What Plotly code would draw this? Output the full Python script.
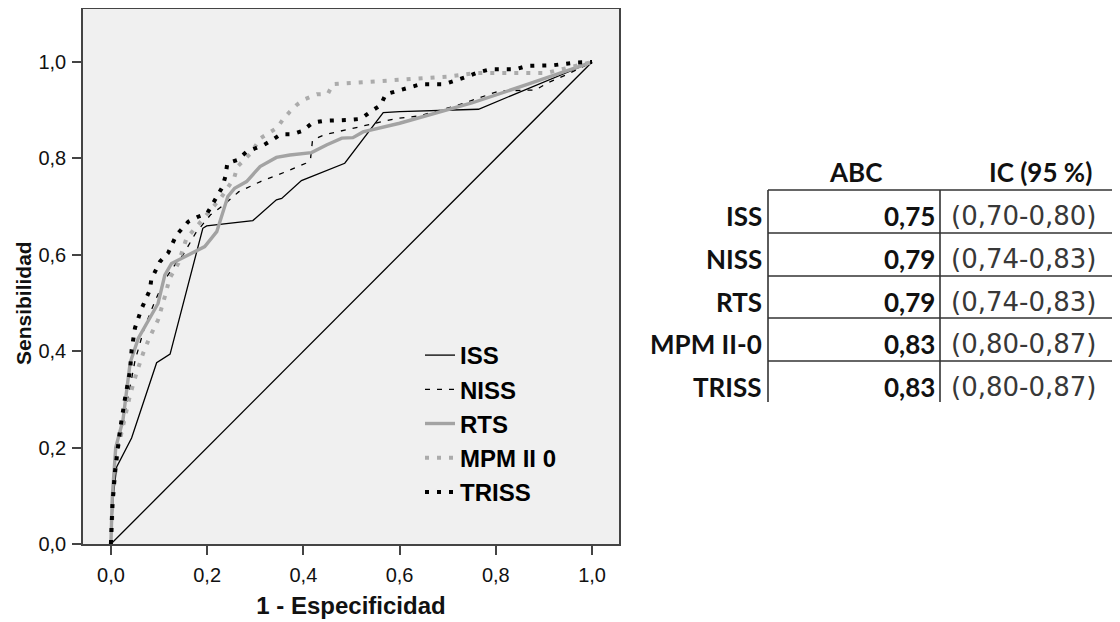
import plotly.graph_objects as go

# ---------------- data ----------------
iss_x = [0, 0.005, 0.012, 0.043, 0.095, 0.123, 0.191, 0.199, 0.295, 0.344, 0.355, 0.396, 0.486, 0.566, 0.6, 0.764, 1.0]
iss_y = [0, 0.10, 0.16, 0.22, 0.376, 0.394, 0.655, 0.66, 0.671, 0.714, 0.717, 0.754, 0.79, 0.895, 0.897, 0.902, 1.0]

niss_x = [0, 0.003, 0.008, 0.02, 0.035, 0.05, 0.07, 0.09, 0.11, 0.13, 0.15, 0.176, 0.207, 0.23, 0.266, 0.311, 0.36, 0.405, 0.415,
          0.419, 0.443, 0.49, 0.538, 0.594, 0.64, 0.72, 0.807, 0.883, 0.906, 0.95, 1.0]
niss_y = [0, 0.10, 0.17, 0.22, 0.30, 0.38, 0.45, 0.50, 0.545, 0.575, 0.60, 0.645, 0.683, 0.70, 0.731, 0.752, 0.771, 0.79, 0.80,
          0.838, 0.849, 0.86, 0.871, 0.883, 0.888, 0.91, 0.94, 0.942, 0.956, 0.975, 1.0]

rts_x = [0, 0.003, 0.01, 0.025, 0.04, 0.057, 0.098, 0.112, 0.126, 0.147, 0.195, 0.22, 0.243, 0.257, 0.282, 0.31, 0.344, 0.372,
         0.417, 0.448, 0.48, 0.503, 0.524, 0.6, 0.75, 0.87, 1.0]
rts_y = [0, 0.10, 0.20, 0.257, 0.376, 0.427, 0.499, 0.558, 0.582, 0.593, 0.617, 0.648, 0.721, 0.738, 0.752, 0.783, 0.802, 0.807,
         0.812, 0.828, 0.842, 0.843, 0.855, 0.873, 0.915, 0.955, 1.0]

mpm_x = [0, 0.005, 0.015, 0.03, 0.04, 0.053, 0.067, 0.081, 0.098, 0.112, 0.122, 0.14, 0.157, 0.181, 0.206, 0.23, 0.256, 0.263,
         0.29, 0.311, 0.346, 0.357, 0.372, 0.386, 0.403, 0.428, 0.451, 0.461, 0.583, 0.703, 0.758, 0.904, 1.0]
mpm_y = [0, 0.10, 0.20, 0.27, 0.31, 0.354, 0.396, 0.43, 0.465, 0.513, 0.551, 0.582, 0.634, 0.662, 0.69, 0.72, 0.759, 0.783,
         0.81, 0.842, 0.864, 0.88, 0.897, 0.911, 0.923, 0.933, 0.934, 0.954, 0.962, 0.97, 0.977, 0.977, 1.0]

triss_x = [0, 0.003, 0.008, 0.019, 0.029, 0.04, 0.043, 0.05, 0.064, 0.081, 0.084, 0.102, 0.119, 0.136, 0.161, 0.181, 0.2, 0.221,
           0.232, 0.238, 0.242, 0.263, 0.281, 0.298, 0.318, 0.335, 0.353, 0.377, 0.398, 0.419, 0.443, 0.495, 0.519, 0.54,
           0.561, 0.571, 0.595, 0.62, 0.644, 0.692, 0.716, 0.741, 0.765, 0.789, 0.841, 0.865, 0.917, 0.966, 1.0]
triss_y = [0, 0.08, 0.147, 0.237, 0.30, 0.361, 0.402, 0.448, 0.489, 0.527, 0.549, 0.586, 0.604, 0.641, 0.669, 0.679, 0.686, 0.723,
           0.741, 0.763, 0.79, 0.797, 0.813, 0.82, 0.828, 0.838, 0.85, 0.85, 0.857, 0.874, 0.878, 0.88, 0.882, 0.897,
           0.911, 0.933, 0.94, 0.948, 0.954, 0.954, 0.961, 0.97, 0.979, 0.985, 0.985, 0.992, 0.993, 0.999, 1.0]

ref_x = [0, 1]
ref_y = [0, 1]

tick_vals = [0, 0.2, 0.4, 0.6, 0.8, 1.0]

table_rows = ["ISS", "NISS", "RTS", "MPM II-0", "TRISS"]
table_abc = ["0,75", "0,79", "0,79", "0,83", "0,83"]
table_ic = ["(0,70-0,80)", "(0,74-0,83)", "(0,74-0,83)", "(0,80-0,87)", "(0,80-0,87)"]
table_headers = ["ABC", "IC (95 %)"]

# ---------------- layout geometry ----------------
W, H = 1120, 622
OFF = 8                     # default page body margin
L, R, T, B = 83, 619, 9, 544  # plot area in page pixels


def px(xp):
    return (xp - L) / (R - L)


def py(yp):
    return (B - yp) / (B - T)


fig = go.Figure()

fig.add_trace(go.Scatter(x=ref_x, y=ref_y, mode="lines", line=dict(color="black", width=1.3),
                         showlegend=False, hoverinfo="skip"))
series = [
    ("ISS", iss_x, iss_y, dict(color="black", width=1.3)),
    ("NISS", niss_x, niss_y, dict(color="black", width=1.3, dash="5px,7px")),
    ("RTS", rts_x, rts_y, dict(color="#a3a3a3", width=3.4)),
    ("MPM II 0", mpm_x, mpm_y, dict(color="#ababab", width=4, dash="4px,8px")),
    ("TRISS", triss_x, triss_y, dict(color="black", width=4, dash="4px,8px")),
]
for name, xs, ys, ln in series:
    fig.add_trace(go.Scatter(x=xs, y=ys, mode="lines", name=name, line=ln, legendgroup=name))

# ---------------- table ----------------
line_col = "#333333"
tfont = "Lato, 'Open Sans', sans-serif"
TS = 26
hline_y = [190, 233, 276, 318, 361]
row_y = [216, 259, 302, 344, 387]
x_left, x_mid = 768, 940

shapes = []
for yy in hline_y:
    shapes.append(dict(type="line", xref="paper", yref="paper", x0=px(x_left), x1=px(W + 10), y0=py(yy), y1=py(yy),
                       line=dict(color=line_col, width=1.6)))
for xx in (x_left, x_mid):
    shapes.append(dict(type="line", xref="paper", yref="paper", x0=px(xx), x1=px(xx), y0=py(190), y1=py(402),
                       line=dict(color=line_col, width=1.6)))

annotations = []
annotations.append(dict(text="<b>" + table_headers[0] + "</b>", x=px(855), y=py(172), xref="paper", yref="paper",
                        showarrow=False, xanchor="center", yanchor="middle",
                        font=dict(family=tfont, size=TS, color="#111")))
annotations.append(dict(text="<b>" + table_headers[1] + "</b>", x=px(1040), y=py(172), xref="paper", yref="paper",
                        showarrow=False, xanchor="center", yanchor="middle",
                        font=dict(family=tfont, size=TS, color="#111")))
for lab, abc, ic, yy in zip(table_rows, table_abc, table_ic, row_y):
    annotations.append(dict(text="<b>" + lab + "</b>", x=px(764), y=py(yy), xref="paper", yref="paper",
                            showarrow=False, xanchor="right", yanchor="middle",
                            font=dict(family=tfont, size=TS, color="#111")))
    annotations.append(dict(text="<b>" + abc + "</b>", x=px(937), y=py(yy), xref="paper", yref="paper",
                            showarrow=False, xanchor="right", yanchor="middle",
                            font=dict(family=tfont, size=TS, color="#111")))
    annotations.append(dict(text=ic, x=px(949), y=py(yy), xref="paper", yref="paper",
                            showarrow=False, xanchor="left", yanchor="middle",
                            font=dict(family="DejaVu Sans, sans-serif", size=26, color="#383838")))

axfont = "Liberation Sans, Arial, sans-serif"
# y-axis title, centred on the 0-1 data range as in the reference
annotations.append(dict(text="<b>Sensibilidad</b>", x=px(23), y=0.5, xref="paper", yref="y",
                        showarrow=False, textangle=-90, xanchor="center", yanchor="middle",
                        font=dict(family=axfont, size=21, color="#111")))

fig.update_layout(
    width=W, height=H,
    margin=dict(l=L - OFF, r=W - (R - OFF), t=T - OFF, b=H - (B - OFF), autoexpand=False),
    paper_bgcolor="white",
    plot_bgcolor="#f0f0f0",
    separators=",.",
    showlegend=True,
    legend=dict(x=px(420), y=py(333), xanchor="left", yanchor="top", bgcolor="rgba(0,0,0,0)",
                font=dict(family=axfont, size=24, color="black", weight="bold"),
                itemwidth=30, tracegroupgap=4, traceorder="normal"),
    shapes=shapes,
    annotations=annotations,
    xaxis=dict(range=[-0.058, 1.056], tickvals=tick_vals, tickformat=".1f", showgrid=False, zeroline=False,
               showline=True, mirror=True, linecolor="#444", linewidth=1.6,
               ticks="outside", ticklen=9, tickwidth=1.6, tickcolor="#444", ticklabelstandoff=3,
               tickfont=dict(family=axfont, size=20, color="#111"),
               title=dict(text="<b>1 - Especificidad</b>", font=dict(family=axfont, size=24, color="#111"),
                          standoff=12)),
    yaxis=dict(range=[0, 1.11], tickvals=tick_vals, tickformat=".1f", showgrid=False, zeroline=False,
               showline=True, mirror=True, linecolor="#444", linewidth=1.6,
               ticks="outside", ticklen=9, tickwidth=1.6, tickcolor="#444", ticklabelstandoff=2,
               tickfont=dict(family=axfont, size=20, color="#111")),
)

fig.write_html("out.html")
